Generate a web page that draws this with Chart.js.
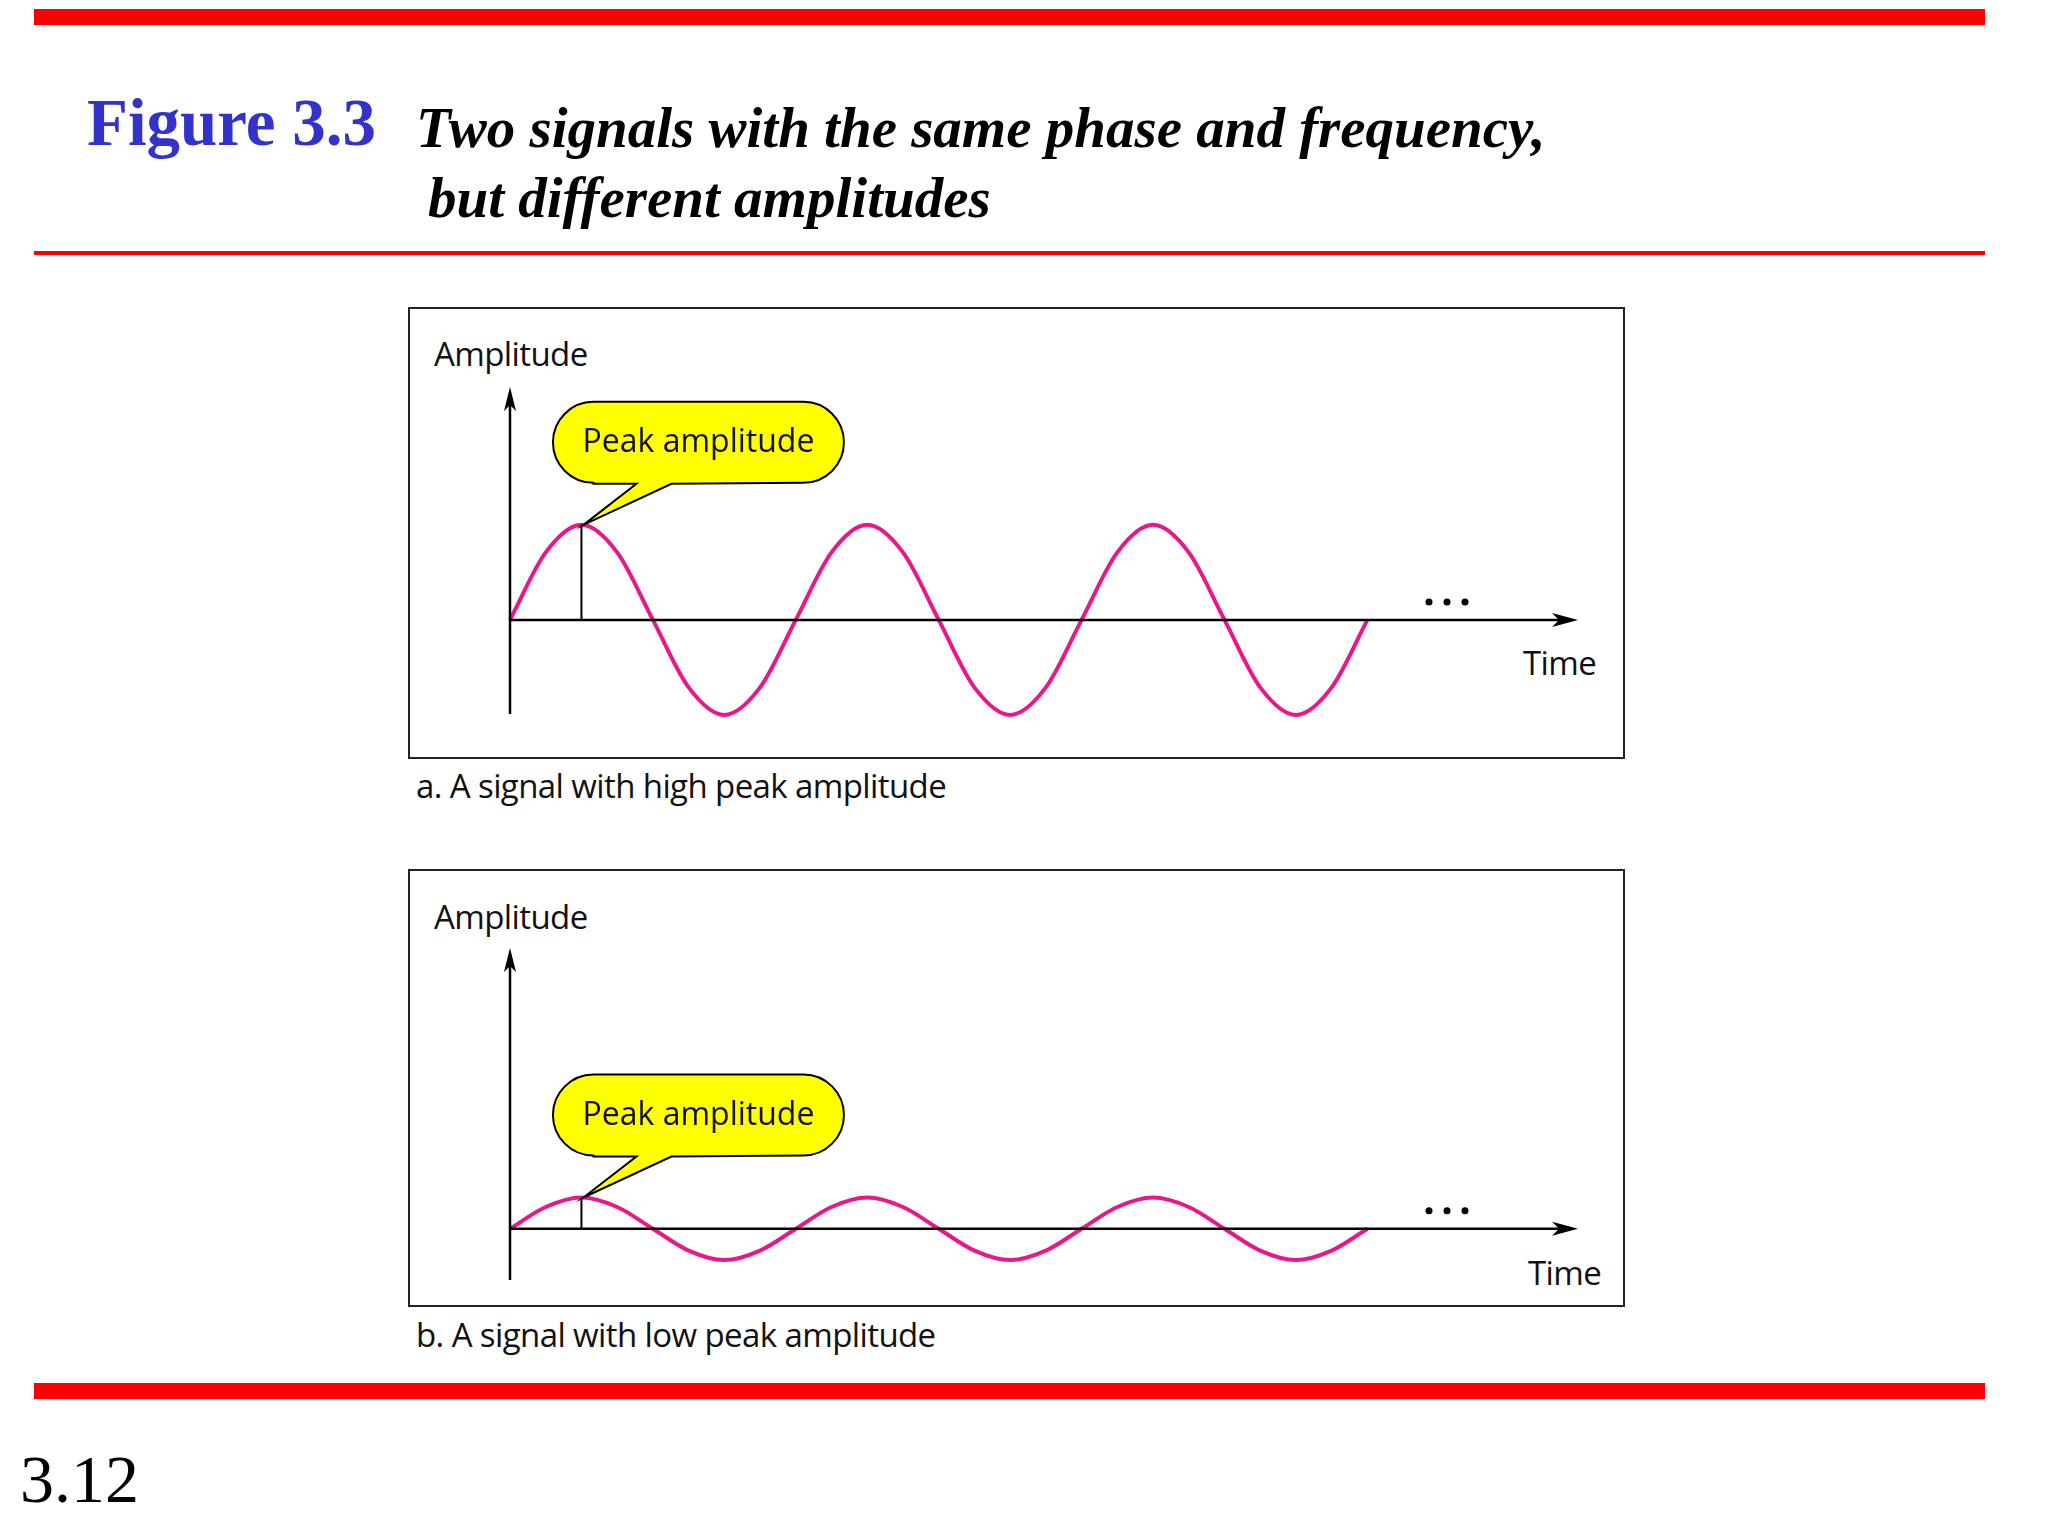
<!DOCTYPE html>
<html><head><meta charset="utf-8">
<script src="https://cdn.jsdelivr.net/npm/chart.js@4"></script>
<style>
body{margin:0;width:2048px;height:1536px;background:#fff;position:relative;overflow:hidden;font-family:"Open Sans",sans-serif}
.abs{position:absolute;white-space:nowrap}
.bar{position:absolute;background:#ff0000}
.box{position:absolute;border:2.5px solid #222;box-sizing:border-box}
.lbl{position:absolute;font-size:33px;color:#111;white-space:nowrap;line-height:1;letter-spacing:-0.6px}
canvas{position:absolute}
</style></head><body>
<div class="bar" style="left:34px;top:9px;width:1951px;height:16px"></div>
<div class="abs" style="left:87px;top:84px;font:bold 67px 'Liberation Serif';color:#3333cc">Figure 3.3</div>
<div class="abs" style="left:416px;top:95px;font:italic bold 57px 'Liberation Serif';color:#000">Two signals with the same phase and frequency,</div>
<div class="abs" style="left:428px;top:165px;font:italic bold 57px 'Liberation Serif';color:#000">but different amplitudes</div>
<div class="bar" style="left:34px;top:251px;width:1951px;height:4px"></div>

<div class="box" style="left:408px;top:307px;width:1217px;height:452px"></div>
<div class="lbl" style="left:434px;top:337px">Amplitude</div>
<div class="lbl" style="left:1523px;top:646px">Time</div>
<div class="lbl" style="left:416px;top:769px">a. A signal with high peak amplitude</div>
<canvas id="ca" style="left:408px;top:307px"></canvas>

<div class="box" style="left:408px;top:869px;width:1217px;height:438px"></div>
<div class="lbl" style="left:434px;top:900px">Amplitude</div>
<div class="lbl" style="left:1528px;top:1256px">Time</div>
<div class="lbl" style="left:416px;top:1318px">b. A signal with low peak amplitude</div>
<canvas id="cb" style="left:408px;top:869px"></canvas>

<div class="bar" style="left:34px;top:1383px;width:1951px;height:16px"></div>
<div class="abs" style="left:20px;top:1440px;font:68px 'Liberation Serif';color:#000">3.12</div>
<script>
// time in periods, sampled every 1/8 period
const timeSteps = [0,0.125,0.25,0.375,0.5,0.625,0.75,0.875,1,1.125,1.25,1.375,1.5,1.625,1.75,1.875,2,2.125,2.25,2.375,2.5,2.625,2.75,2.875,3];
const highSignal = [0,7.1,10,7.1,0,-7.1,-10,-7.1,0,7.1,10,7.1,0,-7.1,-10,-7.1,0,7.1,10,7.1,0,-7.1,-10,-7.1,0];
const lowSignal = [0,2.3,3.3,2.3,0,-2.3,-3.3,-2.3,0,2.3,3.3,2.3,0,-2.3,-3.3,-2.3,0,2.3,3.3,2.3,0,-2.3,-3.3,-2.3,0];
const peakTime = 0.25;
const xMax = 3.737;

function makeChart(id, values, yMin, yMax, pad){
  const cv = document.getElementById(id);
  const peak = Math.max(...values);
  const deco = {
    id:'deco',
    afterDatasetsDraw(chart){
      const c = chart.ctx, x = chart.scales.x, y = chart.scales.y;
      const x0 = x.getPixelForValue(0), y0 = y.getPixelForValue(0);
      const xe = x.getPixelForValue(xMax), yt = y.getPixelForValue(yMax), yb = y.getPixelForValue(yMin);
      c.save();
      c.strokeStyle='#000'; c.fillStyle='#000'; c.lineWidth=2.5;
      c.beginPath(); c.moveTo(x0,yb); c.lineTo(x0,yt+14); c.stroke();
      c.beginPath(); c.moveTo(x0,yt); c.lineTo(x0-6,yt+24); c.lineTo(x0,yt+18); c.lineTo(x0+6,yt+24); c.closePath(); c.fill();
      c.beginPath(); c.moveTo(x0,y0); c.lineTo(xe-14,y0); c.stroke();
      c.beginPath(); c.moveTo(xe,y0); c.lineTo(xe-26,y0-7); c.lineTo(xe-19,y0); c.lineTo(xe-26,y0+7); c.closePath(); c.fill();
      const px = x.getPixelForValue(peakTime), py = y.getPixelForValue(peak);
      c.lineWidth=2; c.beginPath(); c.moveTo(px,y0); c.lineTo(px,py); c.stroke();
      for(const dx of [-149,-131,-113]){ c.beginPath(); c.arc(xe+dx,y0-18,3.5,0,Math.PI*2); c.fill(); }
      const bl=px-28, bt=py-123, bw=290, bh=81, r=40;
      c.fillStyle='#ffff00'; c.strokeStyle='#000'; c.lineWidth=2;
      c.beginPath();
      c.moveTo(bl+r,bt); c.lineTo(bl+bw-r,bt); c.arc(bl+bw-r,bt+r+0.5,r+0.5,-Math.PI/2,Math.PI/2);
      c.lineTo(px+90,bt+bh+1); c.lineTo(px+2,py); c.lineTo(px+55,bt+bh+1);
      c.lineTo(bl+r,bt+bh+1); c.arc(bl+r,bt+r+0.5,r+0.5,Math.PI/2,Math.PI*1.5);
      c.closePath(); c.fill(); c.stroke();
      c.fillStyle='#111'; c.font='32px "Open Sans"'; c.textAlign='center'; c.textBaseline='middle';
      c.fillText('Peak amplitude', bl+bw/2, bt+bh/2+1);
      c.restore();
    }
  };
  return new Chart(cv,{
    type:'line',
    data:{labels:timeSteps,datasets:[{data:timeSteps.map((t,i)=>({x:t,y:values[i]})),borderColor:'#e8178a',borderWidth:4,pointRadius:0,cubicInterpolationMode:'monotone',fill:false,clip:false}]},
    options:{responsive:false,animation:false,devicePixelRatio:1,
      layout:{padding:pad},
      plugins:{legend:{display:false},tooltip:{enabled:false}},
      scales:{x:{type:'linear',min:0,max:xMax,display:false},y:{min:yMin,max:yMax,display:false}}},
    plugins:[deco]
  });
}
function setup(id,w,h){const c=document.getElementById(id);c.width=w;c.height=h;c.style.width=w+'px';c.style.height=h+'px';}
setup('ca',1217,452); setup('cb',1217,438);
makeChart('ca', highSignal, -9.9, 24.5, {left:102,right:47,top:80,bottom:45});
makeChart('cb', lowSignal, -5.4, 29.6, {left:102,right:47,top:79,bottom:27});
</script>
</body></html>
